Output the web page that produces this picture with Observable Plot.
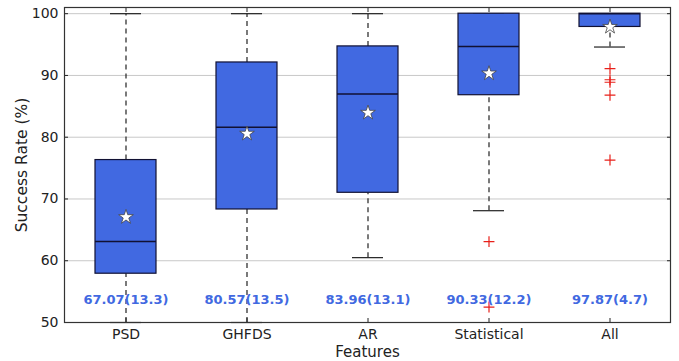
<!DOCTYPE html>
<html>
<head>
<meta charset="utf-8">
<script src="https://cdn.jsdelivr.net/npm/d3@7"></script>
<script src="https://cdn.jsdelivr.net/npm/@observablehq/plot@0.6"></script>
<style>
  html, body { margin: 0; padding: 0; background: #fff; }
  svg { font-family: "DejaVu Sans", sans-serif; }
</style>
</head>
<body>
<div id="chart"></div>
<script>
const features = ["PSD", "GHFDS", "AR", "Statistical", "All"];
const q1 = [57.9, 68.3, 71.0, 86.8, 97.85];
const median = [63.1, 81.6, 87.0, 94.7, 100];
const q3 = [76.3, 92.1, 94.7, 100, 100];
const whiskerLow = [50, 50, 60.5, 68.1, 94.6];
const whiskerHigh = [100, 100, 100, 100, 100];
const means = [67.07, 80.57, 83.96, 90.33, 97.87];
const stds = [13.3, 13.5, 13.1, 12.2, 4.7];
const outlierFeature = ["Statistical", "Statistical", "All", "All", "All", "All", "All"];
const outlierValue = [63.1, 52.5, 91.1, 89.3, 88.9, 86.8, 76.3];
const yTicks = [50, 60, 70, 80, 90, 100];
const labelY = 53.7;

const boxes = features.map((f, i) => ({
  f, q1: q1[i], med: median[i], q3: q3[i], lo: whiskerLow[i], hi: whiskerHigh[i],
  mean: means[i], std: stds[i]
}));
const outliers = outlierFeature.map((f, i) => ({f, v: outlierValue[i]}));

const blue = "#4169E1";
const edge = "#111133";

const chart = Plot.plot({
  width: 679,
  height: 361,
  marginLeft: 64,
  marginRight: 9,
  marginTop: 7,
  marginBottom: 39,
  style: {fontFamily: "DejaVu Sans, sans-serif", fontSize: "14px", color: "#222", background: "#fff"},
  x: {domain: features, paddingInner: 0.5, paddingOuter: 0.25, label: null},
  y: {domain: [50, 101], label: null},
  marks: [
    Plot.ruleY(yTicks.slice(1), {stroke: "#c8c8c8", strokeWidth: 1}),
    // whiskers
    Plot.ruleX(boxes, {x: "f", y1: "q3", y2: "hi", stroke: "#222", strokeWidth: 1.2, strokeDasharray: "5,4"}),
    Plot.ruleX(boxes, {x: "f", y1: "lo", y2: "q1", stroke: "#222", strokeWidth: 1.2, strokeDasharray: "5,4"}),
    Plot.tickY(boxes, {x: "f", y: "hi", stroke: "#222", strokeWidth: 1.2, insetLeft: 15, insetRight: 15}),
    Plot.tickY(boxes, {x: "f", y: "lo", stroke: "#222", strokeWidth: 1.2, insetLeft: 15, insetRight: 15}),
    // boxes
    Plot.barY(boxes, {x: "f", y1: "q1", y2: "q3", fill: blue, stroke: edge, strokeWidth: 1.2}),
    Plot.tickY(boxes, {x: "f", y: "med", stroke: edge, strokeWidth: 1.5}),
    // means
    Plot.dot(boxes, {x: "f", y: "mean", symbol: "star", r: 4.6, fill: "white", stroke: "#444", strokeWidth: 0.8}),
    // outliers
    Plot.dot(outliers, {x: "f", y: "v", symbol: "plus", r: 3.6, stroke: "#e8201a", strokeWidth: 1.2}),
    // mean labels
    Plot.text(boxes, {x: "f", y: () => labelY, text: d => `${d.mean.toFixed(2)}(${d.std.toFixed(1)})`,
      fill: blue, fontWeight: "bold", fontSize: 13}),
    // axes
    Plot.axisY({ticks: yTicks, tickSize: 0, tickPadding: 6, fontSize: 14, label: null}),
    Plot.axisY({ticks: yTicks, anchor: "left", tickSize: -4, text: null, label: null, stroke: "#222"}),
    Plot.axisY({ticks: yTicks, anchor: "right", tickSize: -4, text: null, label: null, stroke: "#222"}),
    Plot.axisX({tickSize: 0, tickPadding: 7, fontSize: 14, label: null}),
    Plot.axisX({anchor: "bottom", tickSize: -4, text: null, label: null, stroke: "#222"}),
    Plot.axisX({anchor: "top", tickSize: -4, text: null, label: null, stroke: "#222"}),
    Plot.frame({stroke: "#333", strokeWidth: 1.2}),
    Plot.text(["Success Rate (%)"], {frameAnchor: "left", dx: -42, rotate: -90, textAnchor: "middle", fontSize: 15.5, fill: "#222"}),
    Plot.text(["Features"], {frameAnchor: "bottom", dy: 34, textAnchor: "middle", fontSize: 15, fill: "#222"})
  ]
});
document.getElementById("chart").appendChild(chart);
</script>
</body>
</html>
